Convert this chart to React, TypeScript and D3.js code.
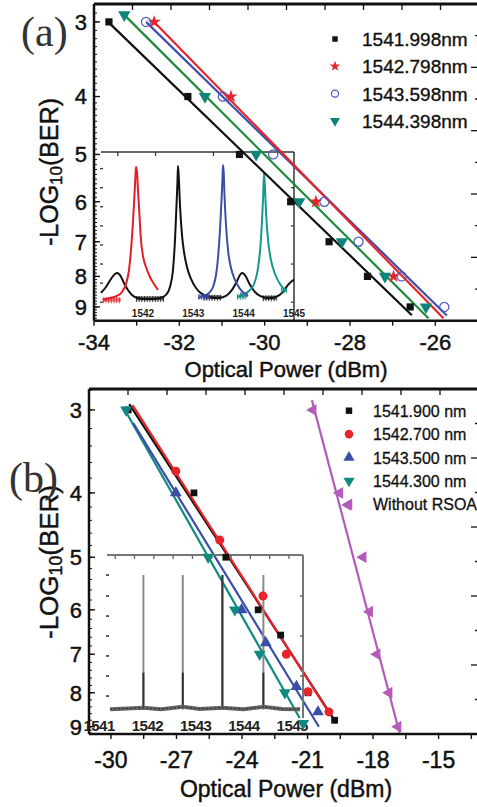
import React from 'react';
import * as d3 from 'd3';

// ================= Panel (a) data =================
const aNames = ['1541.998nm', '1542.798nm', '1543.598nm', '1544.398nm'];
const a1Power = [-33.65, -31.8, -30.59, -29.39, -28.49, -27.59, -26.59];
const a1Ber = [3, 4, 5, 6, 7, 8, 9];
const a2Power = [-32.59, -30.79, -28.8, -26.98];
const a2Ber = [3, 4, 6, 8];
const a3Power = [-32.78, -30.98, -29.8, -28.6, -27.8, -26.79, -25.79];
const a3Ber = [3, 4, 5, 6, 7, 8, 9];
const a4Power = [-33.29, -31.4, -30.2, -29.19, -28.19, -27.18, -26.22];
const a4Ber = [2.92, 4, 5, 6, 7, 8, 9];
// fitted lines: [power1, ber1, power2, ber2]
const a1Fit = [-33.67, 3, -26.55, 9.29];
const a2Fit = [-32.59, 3, -25.81, 9.4];
const a3Fit = [-32.78, 3, -25.73, 9.3];
const a4Fit = [-33.29, 2.92, -26.16, 9.4];
const aXTicks = [-34, -32, -30, -28, -26];
const aXMinor = [-34, -33, -32, -31, -30, -29, -28, -27, -26, -25];
const yTickLabels = [3, 4, 5, 6, 7, 8, 9];

// inset (a) spectra: [wavelength nm, relative level]
const specRed: [number, number][] = [
  [1541.205, 0.108], [1541.344, 0.12], [1541.483, 0.133], [1541.583, 0.157], [1541.662, 0.205],
  [1541.722, 0.289], [1541.762, 0.41], [1541.801, 0.578], [1541.831, 0.741], [1541.851, 0.861],
  [1541.861, 0.91], [1541.881, 0.88], [1541.901, 0.771], [1541.93, 0.62], [1541.96, 0.47],
  [1542.0, 0.373], [1542.06, 0.307], [1542.139, 0.247], [1542.219, 0.205], [1542.298, 0.169],
];
const specBlack: [number, number][] = [
  [1541.166, 0.151], [1541.265, 0.187], [1541.364, 0.235], [1541.444, 0.265], [1541.483, 0.271],
  [1541.543, 0.259], [1541.622, 0.211], [1541.702, 0.169], [1541.781, 0.139], [1541.901, 0.12],
  [1542.04, 0.114], [1542.179, 0.114], [1542.338, 0.12], [1542.457, 0.139], [1542.536, 0.187],
  [1542.596, 0.289], [1542.636, 0.47], [1542.666, 0.681], [1542.686, 0.831], [1542.695, 0.916],
  [1542.709, 0.861], [1542.735, 0.681], [1542.775, 0.5], [1542.815, 0.398], [1542.874, 0.307],
  [1542.954, 0.235], [1543.053, 0.181], [1543.172, 0.145], [1543.331, 0.127], [1543.49, 0.12],
  [1543.649, 0.133], [1543.768, 0.169], [1543.868, 0.223], [1543.927, 0.259], [1543.967, 0.271],
  [1544.027, 0.259], [1544.106, 0.211], [1544.206, 0.163], [1544.325, 0.133], [1544.484, 0.12],
  [1544.643, 0.127], [1544.782, 0.157], [1544.881, 0.199], [1544.961, 0.223], [1545.0, 0.229],
];
const specBlue: [number, number][] = [
  [1543.093, 0.12], [1543.212, 0.133], [1543.311, 0.151], [1543.391, 0.187], [1543.451, 0.259],
  [1543.49, 0.361], [1543.53, 0.53], [1543.56, 0.711], [1543.58, 0.843], [1543.59, 0.922],
  [1543.603, 0.88], [1543.619, 0.741], [1543.649, 0.56], [1543.689, 0.41], [1543.749, 0.301],
  [1543.828, 0.229], [1543.927, 0.175], [1544.027, 0.145], [1544.086, 0.133],
];
const specTeal: [number, number][] = [
  [1543.868, 0.127], [1543.987, 0.139], [1544.106, 0.163], [1544.206, 0.205], [1544.285, 0.301],
  [1544.335, 0.44], [1544.365, 0.59], [1544.388, 0.741], [1544.404, 0.873], [1544.42, 0.801],
  [1544.444, 0.639], [1544.484, 0.47], [1544.543, 0.349], [1544.623, 0.265], [1544.722, 0.205],
  [1544.802, 0.175], [1544.861, 0.163],
];
// noisy floor segments of the spectra: [start nm, end nm, level]
const noiseRed = [[1541.2, 1541.56, 0.11]];
const noiseBlack = [[1541.86, 1542.42, 0.118], [1543.2, 1543.56, 0.125], [1544.38, 1544.66, 0.122]];
const noiseBlue = [[1543.1, 1543.33, 0.13], [1543.93, 1544.08, 0.14]];
const noiseTeal = [[1543.87, 1544.04, 0.13], [1544.74, 1544.86, 0.168]];
const insetATicks = [1542, 1543, 1544, 1545];
const insetATopTicks = [1541.5, 1542.25, 1543.4, 1544.2];
const insetAYTicks = [0.095, 0.21, 0.325, 0.44, 0.555, 0.67, 0.785, 0.9];

// ================= Panel (b) data =================
const bNames = ['1541.900 nm', '1542.700 nm', '1543.500 nm', '1544.300 nm', 'Without RSOA'];
const b1Power = [-29.21, -26.2, -24.74, -23.26, -22.23, -20.98, -19.76];
const b1Ber = [3, 4, 5, 6, 6.55, 8, 8.8];
const b2Power = [-27.03, -25.02, -23.04, -21.97, -20.98, -20.02];
const b2Ber = [3.71, 4.71, 5.72, 7, 7.97, 8.55];
const b3Power = [-27.03, -24.02, -22.91, -21.51, -20.52];
const b3Ber = [4, 6, 6.73, 7.83, 8.55];
const b4Power = [-29.31, -25.55, -24.33, -23.19, -22.04, -21.2];
const b4Ber = [3, 5, 6, 7, 8, 8.9];
const b5Power = [-20.75, -19.53, -19.15, -18.46, -18.16, -17.82, -17.27, -16.86];
const b5Ber = [3, 4, 4.17, 5, 6.04, 7, 8, 9];
const b1Fit = [-29.16, 2.94, -19.68, 8.89];
const b2Fit = [-29.01, 2.95, -19.99, 8.6];
const b3Fit = [-28.98, 3.14, -20.48, 9.0];
const b4Fit = [-29.44, 2.97, -21.36, 8.73];
const b5Fit = [-20.8, 2.9, -16.79, 9.19];
const bXTicks = [-30, -27, -24, -21, -18, -15];
const bXMinor = [-30, -28.5, -27, -25.5, -24, -22.5, -21, -19.5, -18, -16.5, -15, -13.5];

// inset (b) spectrum
const insetBPeakWl = [1541.834, 1542.65, 1543.47, 1544.319];
const insetBPeakLevel = [0.874, 0.874, 0.874, 0.874];
const insetBDarkLevel = [0.26, 0.26, 0.874, 0.26];
const insetBBase: [number, number][] = [
  [1541.145, 0.03], [1541.5, 0.035], [1541.83, 0.04], [1542.2, 0.03], [1542.65, 0.045],
  [1543.0, 0.032], [1543.47, 0.04], [1543.9, 0.03], [1544.32, 0.045], [1544.7, 0.032], [1545.08, 0.03],
];
const insetBTicks = [1541, 1542, 1543, 1544, 1545];
const insetBYTicks = [0.113, 0.239, 0.365, 0.491, 0.616, 0.742, 0.874];

const FONT = '"Liberation Sans", Arial, Helvetica, sans-serif';
const TXT = { fontFamily: FONT, fill: '#111', stroke: '#111', strokeWidth: 0.45 } as const;

function Marker({ kind, x, y, size, color }: { kind: string; x: number; y: number; size: number; color: string }) {
  let type: any = d3.symbolSquare;
  let rot = 0;
  let fill = color;
  let stroke = 'none';
  if (kind === 'star') type = d3.symbolStar;
  if (kind === 'circle') type = d3.symbolCircle;
  if (kind === 'ocircle') { type = d3.symbolCircle; fill = 'none'; stroke = color; }
  if (kind === 'tri') type = d3.symbolTriangle;
  if (kind === 'dtri') { type = d3.symbolTriangle; rot = 180; }
  if (kind === 'ltri') { type = d3.symbolTriangle; rot = -90; }
  const d = d3.symbol().type(type).size(size)() as string;
  return <path d={d} transform={`translate(${x},${y}) rotate(${rot})`} fill={fill} stroke={stroke} strokeWidth={1.2} />;
}

function YLabel({ x, y, size }: { x: number; y: number; size: number }) {
  return (
    <text transform={`translate(${x},${y}) rotate(-90)`} textAnchor="middle" fontSize={size} {...TXT}>
      -LOG<tspan fontSize={size * 0.68} dy={size * 0.16}>10</tspan>
      <tspan dy={-size * 0.16}>(BER)</tspan>
    </text>
  );
}

export default function App() {
  // ---------- scales (a) ----------
  const xA = d3.scaleLinear().domain([-34, -25]).range([94, 478]);
  const yA = d3.scaleLog().domain([2.8, 9.49]).range([4, 320.7]);
  const aL = 94, aR = 479, aT = 4, aB = 320.7;
  // inset (a)
  const ixA = d3.scaleLinear().domain([1541.166, 1545]).range([101, 294]);
  const iyA = d3.scaleLinear().domain([0, 1]).range([318, 152]);
  const specLineA = d3.line<[number, number]>().x(d => ixA(d[0])).y(d => iyA(d[1])).curve(d3.curveMonotoneX);

  // ---------- scales (b) ----------
  const xB = d3.scaleLinear().domain([-31, -13.15]).range([89.1, 479]);
  const yB = d3.scaleLog().domain([2.79, 9.23]).range([389, 734]);
  const bL = 89, bR = 479, bT = 389, bB = 734;
  const ixB = d3.scaleLinear().domain([1541.08, 1545.14]).range([107, 303]);
  const iyB = d3.scaleLinear().domain([0, 1]).range([714, 555]);
  const baseLineB = d3.line<[number, number]>().x(d => ixB(d[0])).y(d => iyB(d[1]));

  const aSeries = [
    { p: a1Power, b: a1Ber, fit: a1Fit, kind: 'square', mcol: '#111', lcol: '#111', size: 52, lsize: 30 },
    { p: a2Power, b: a2Ber, fit: a2Fit, kind: 'star', mcol: '#e8232a', lcol: '#e8232a', size: 55, lsize: 34 },
    { p: a3Power, b: a3Ber, fit: a3Fit, kind: 'ocircle', mcol: '#4a58c0', lcol: '#3d4fa8', size: 66, lsize: 40 },
    { p: a4Power, b: a4Ber, fit: a4Fit, kind: 'dtri', mcol: '#0f857a', lcol: '#1d8b3b', size: 66, lsize: 44 },
  ];
  const aLineOrder = [0, 3, 2, 1];
  const bSeries = [
    { p: b1Power, b: b1Ber, fit: b1Fit, kind: 'square', col: '#111', size: 46 },
    { p: b2Power, b: b2Ber, fit: b2Fit, kind: 'circle', col: '#e8232a', size: 64 },
    { p: b3Power, b: b3Ber, fit: b3Fit, kind: 'tri', col: '#3b4ea6', size: 60 },
    { p: b4Power, b: b4Ber, fit: b4Fit, kind: 'dtri', col: '#0f8a80', size: 60 },
    { p: b5Power, b: b5Ber, fit: b5Fit, kind: 'ltri', col: '#b35bb8', size: 60 },
  ];
  const bLineOrder = [3, 2, 0, 1, 4];

  const yMinorA = d3.range(2.8, 9.45, 0.1);
  const yMinorB = d3.range(2.8, 9.21, 0.2);
  const tenths = d3.range(0, 11);

  const noiseGroups = [
    { segs: noiseBlack, col: '#111' },
    { segs: noiseRed, col: '#e41e26' },
    { segs: noiseBlue, col: '#3c4ea5' },
    { segs: noiseTeal, col: '#16998d' },
  ];

  return (
    <svg width={477} height={807} style={{ position: 'absolute', left: 0, top: 0, background: '#fff' }}>
      <rect width={477} height={807} fill="#fff" />

      {/* ================= Panel (a) ================= */}
      {/* inset (a) */}
      <g>
        <line x1={101} x2={294} y1={152} y2={152} stroke="#333" strokeWidth={1.5} />
        <line x1={294} x2={294} y1={152} y2={aB} stroke="#333" strokeWidth={1.5} />
        {insetATopTicks.map((t, i) => (
          <line key={i} x1={ixA(t)} x2={ixA(t)} y1={152} y2={156} stroke="#333" strokeWidth={1.2} />
        ))}
        {insetAYTicks.map((t, i) => (
          <line key={i} x1={100} x2={103} y1={iyA(t)} y2={iyA(t)} stroke="#333" strokeWidth={1.3} />
        ))}
        {insetAYTicks.filter((_, i) => i % 2 === 0).map((t, i) => (
          <line key={'r' + i} x1={291} x2={294} y1={iyA(t)} y2={iyA(t)} stroke="#333" strokeWidth={1.2} />
        ))}
        <path d={specLineA(specBlack) as string} fill="none" stroke="#111" strokeWidth={2} />
        <path d={specLineA(specRed) as string} fill="none" stroke="#e41e26" strokeWidth={2} />
        <path d={specLineA(specBlue) as string} fill="none" stroke="#3c4ea5" strokeWidth={2} />
        <path d={specLineA(specTeal) as string} fill="none" stroke="#16998d" strokeWidth={2} />
        {noiseGroups.map((g, gi) => (
          <g key={'n' + gi}>
            {g.segs.map((s, i) => (
              <g key={i}>
                <line x1={ixA(s[0])} x2={ixA(s[1])} y1={iyA(s[2])} y2={iyA(s[2])} stroke={g.col} strokeWidth={4} strokeOpacity={0.6} />
                <line x1={ixA(s[0])} x2={ixA(s[1])} y1={iyA(s[2]) + 0.5} y2={iyA(s[2]) + 0.5} stroke={g.col} strokeWidth={6} strokeDasharray="1 1.7" strokeOpacity={0.8} />
              </g>
            ))}
          </g>
        ))}
        {insetATicks.map((t, i) => (
          <text key={i} x={ixA(t)} y={316.5} textAnchor="middle" fontFamily={FONT} fontWeight="bold" fontSize={10} fill="#222">{t}</text>
        ))}
      </g>

      {/* frame (a) */}
      <line x1={aL} x2={aR} y1={aT} y2={aT} stroke="#111" strokeWidth={3} />
      <line x1={aL} x2={aL} y1={aT} y2={aB} stroke="#111" strokeWidth={2.5} />
      <line x1={aL} x2={aR} y1={aB} y2={aB} stroke="#111" strokeWidth={2.5} />
      {tenths.map(i => (
        <line key={'ta' + i} x1={aL + (aR - aL) * i / 10} x2={aL + (aR - aL) * i / 10} y1={aT} y2={aT + 6} stroke="#111" strokeWidth={1.3} />
      ))}
      {tenths.map(i => (
        <line key={'ra' + i} x1={aR - (i % 2 ? 4 : 8)} x2={aR} y1={aT + (aB - aT) * i / 10} y2={aT + (aB - aT) * i / 10} stroke="#111" strokeWidth={1.3} />
      ))}
      {aXMinor.map(t => (
        <line key={'xa' + t} x1={xA(t)} x2={xA(t)} y1={aB} y2={aB + 5} stroke="#111" strokeWidth={1.4} />
      ))}
      {yMinorA.map((t, i) => (
        <line key={'ya' + i} x1={aL} x2={aL + 3} y1={yA(t)} y2={yA(t)} stroke="#111" strokeWidth={1} />
      ))}
      {yTickLabels.map(t => (
        <g key={'yla' + t}>
          <line x1={aL} x2={aL + 6} y1={yA(t)} y2={yA(t)} stroke="#111" strokeWidth={1.4} />
          <text x={87} y={yA(t)} dy="0.36em" textAnchor="end" fontSize={22} {...TXT}>{t}</text>
        </g>
      ))}
      {aXTicks.map(t => (
        <text key={'xla' + t} x={xA(t)} y={350} textAnchor="middle" fontSize={22} {...TXT}>{t}</text>
      ))}
      <text x={286} y={377} textAnchor="middle" fontSize={22} {...TXT}>Optical Power (dBm)</text>
      <YLabel x={58} y={172} size={25} />
      <text x={21} y={46} fontFamily='"Liberation Serif", "Times New Roman", serif' fontSize={42} fill="#333">(a)</text>

      {/* fit lines (a) */}
      {aLineOrder.map(i => {
        const s = aSeries[i];
        return <line key={'fa' + i} x1={xA(s.fit[0])} y1={yA(s.fit[1])} x2={xA(s.fit[2])} y2={yA(s.fit[3])} stroke={s.lcol} strokeWidth={2.2} />;
      })}
      {/* markers (a) */}
      {aSeries.map((s, i) => (
        <g key={'ma' + i}>
          {s.p.map((p, j) => (
            <Marker key={j} kind={s.kind} x={xA(p)} y={yA(s.b[j])} size={s.size} color={s.mcol} />
          ))}
        </g>
      ))}
      {/* legend (a) */}
      {aSeries.map((s, i) => (
        <g key={'la' + i}>
          <Marker kind={s.kind} x={335} y={39 + i * 27.3} size={s.lsize} color={s.mcol} />
          <text x={362} y={39 + i * 27.3 + 7} fontSize={19} {...TXT} strokeWidth={0.35}>{aNames[i]}</text>
        </g>
      ))}

      {/* ================= Panel (b) ================= */}
      <line x1={bL} x2={bR} y1={bT} y2={bT} stroke="#111" strokeWidth={3} />
      <line x1={bL} x2={bL} y1={bT} y2={bB} stroke="#111" strokeWidth={2.5} />
      <line x1={bL} x2={bR} y1={bB} y2={bB} stroke="#111" strokeWidth={2.5} />
      {tenths.map(i => (
        <line key={'tb' + i} x1={bL + (bR - bL) * i / 10} x2={bL + (bR - bL) * i / 10} y1={bT} y2={bT + 6} stroke="#111" strokeWidth={1.3} />
      ))}
      {tenths.map(i => (
        <line key={'rb' + i} x1={bR - (i % 2 ? 4 : 8)} x2={bR} y1={bT + (bB - bT) * i / 10} y2={bT + (bB - bT) * i / 10} stroke="#111" strokeWidth={1.3} />
      ))}
      {bXMinor.map(t => (
        <line key={'xb' + t} x1={xB(t)} x2={xB(t)} y1={bB} y2={bB + 5} stroke="#111" strokeWidth={1.4} />
      ))}
      {yMinorB.map((t, i) => (
        <line key={'yb' + i} x1={bL} x2={bL + 3} y1={yB(t)} y2={yB(t)} stroke="#111" strokeWidth={1} />
      ))}
      {yTickLabels.map(t => (
        <g key={'ylb' + t}>
          <line x1={bL} x2={bL + 6} y1={yB(t)} y2={yB(t)} stroke="#111" strokeWidth={1.4} />
          <text x={82} y={yB(t)} dy="0.36em" textAnchor="end" fontSize={22} {...TXT}>{t}</text>
        </g>
      ))}
      {bXTicks.map(t => (
        <text key={'xlb' + t} x={xB(t)} y={768} textAnchor="middle" fontSize={23} {...TXT}>{t}</text>
      ))}
      <text x={286} y={797} textAnchor="middle" fontSize={23} {...TXT}>Optical Power (dBm)</text>
      <YLabel x={58} y={562} size={26} />
      <text x={9} y={492} fontFamily='"Liberation Serif", "Times New Roman", serif' fontSize={42} fill="#333">(b)</text>

      {/* fit lines (b) */}
      {bLineOrder.map(i => {
        const s = bSeries[i];
        return <line key={'fb' + i} x1={xB(s.fit[0])} y1={yB(s.fit[1])} x2={xB(s.fit[2])} y2={yB(s.fit[3])} stroke={s.col} strokeWidth={2.2} />;
      })}

      {/* inset (b) */}
      <g>
        <line x1={107} x2={303} y1={555} y2={555} stroke="#777" strokeWidth={2} />
        <line x1={303} x2={303} y1={555} y2={718} stroke="#777" strokeWidth={2} />
        {d3.range(1541.25, 1545.1, 0.4).map((t, i) => (
          <line key={i} x1={ixB(t)} x2={ixB(t)} y1={555} y2={559} stroke="#666" strokeWidth={1.3} />
        ))}
        {insetBYTicks.map((t, i) => (
          <line key={i} x1={106} x2={109} y1={iyB(t)} y2={iyB(t)} stroke="#333" strokeWidth={1.6} />
        ))}
        {insetBYTicks.filter((_, i) => i % 2 === 1).map((t, i) => (
          <line key={'r' + i} x1={300} x2={303} y1={iyB(t)} y2={iyB(t)} stroke="#555" strokeWidth={1.3} />
        ))}
        {insetBPeakWl.map((w, i) => (
          <g key={i}>
            <line x1={ixB(w)} x2={ixB(w)} y1={iyB(0.03)} y2={iyB(insetBPeakLevel[i])} stroke="#8a8a8a" strokeWidth={2} />
            <line x1={ixB(w)} x2={ixB(w)} y1={iyB(0.03)} y2={iyB(insetBDarkLevel[i])} stroke="#333" strokeWidth={2} />
          </g>
        ))}
        <path d={baseLineB(insetBBase) as string} fill="none" stroke="#666" strokeWidth={4} />
        <path d={baseLineB(insetBBase) as string} fill="none" stroke="#333" strokeWidth={1.2} strokeDasharray="2 2" />
        {insetBTicks.map((t, i) => (
          <text key={i} x={ixB(t) - 4} y={731} textAnchor="middle" fontFamily={FONT} fontWeight="bold" fontSize={15} fill="#222" letterSpacing={-0.5}>{t}</text>
        ))}
      </g>

      {/* markers (b) */}
      {bSeries.map((s, i) => (
        <g key={'mb' + i}>
          {s.p.map((p, j) => (
            <Marker key={j} kind={s.kind} x={xB(p)} y={yB(s.b[j])} size={s.size} color={s.col} />
          ))}
        </g>
      ))}
      {/* legend (b) */}
      {bSeries.map((s, i) => (
        <g key={'lb' + i}>
          <Marker kind={s.kind} x={349} y={410.7 + i * 23.4} size={s.size * 0.9} color={s.col} />
          <text x={373} y={410.7 + i * 23.4 + 6} fontSize={16} {...TXT} strokeWidth={0.3}>{bNames[i]}</text>
        </g>
      ))}
    </svg>
  );
}
